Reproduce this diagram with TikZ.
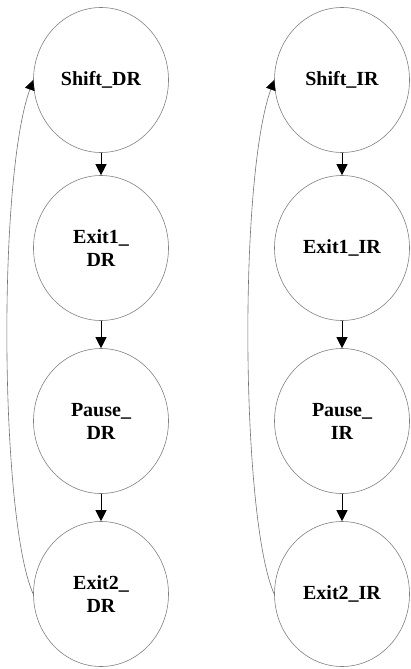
\documentclass[tikz,border=0pt]{standalone}
\usepackage{fontspec}
\setmainfont{Liberation Serif}
\usetikzlibrary{shapes.geometric,arrows.meta}
\begin{document}
\begin{tikzpicture}[x=1pt,y=-1pt,
  state/.style={ellipse,draw=black!50,line width=0.6pt,minimum width=135pt,minimum height=145pt,inner sep=0pt,align=center,font=\fontsize{20}{23}\selectfont\bfseries},
  arr/.style={draw=black,line width=0.8pt,-{Triangle[length=11pt,width=11pt]}},
  back/.style={draw=black!55,line width=0.6pt,-{Triangle[length=10pt,width=10pt,color=black]}}]
\useasboundingbox (0,0) rectangle (410,669);
\node[state] (sdr) at (101,80) {Shift\_DR};
\node[state] (e1dr) at (101,248) {Exit1\_\\DR};
\node[state] (pdr) at (101,421) {Pause\_\\DR};
\node[state] (e2dr) at (101,594) {Exit2\_\\DR};
\node[state] (sir) at (342,80) {Shift\_IR};
\node[state] (e1ir) at (342,248) {Exit1\_IR};
\node[state] (pir) at (342,421) {Pause\_\\IR};
\node[state] (e2ir) at (342,594) {Exit2\_IR};
\draw[arr] (sdr.south) -- (e1dr.north);
\draw[arr] (e1dr.south) -- (pdr.north);
\draw[arr] (pdr.south) -- (e2dr.north);
\draw[arr] (sir.south) -- (e1ir.north);
\draw[arr] (e1ir.south) -- (pir.north);
\draw[arr] (pir.south) -- (e2ir.north);
\draw[back] (e2dr.west) .. controls +(-33,-74) and +(-36,100) .. (sdr.west);
\draw[back] (e2ir.west) .. controls +(-33,-74) and +(-36,100) .. (sir.west);
\end{tikzpicture}
\end{document}
